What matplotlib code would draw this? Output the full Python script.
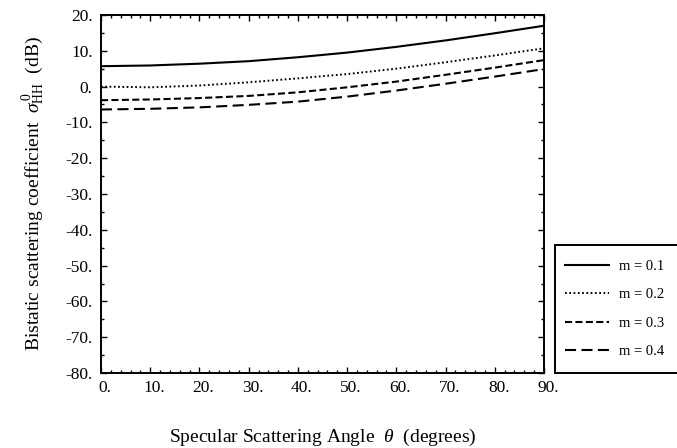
import matplotlib
matplotlib.use("Agg")
import matplotlib.pyplot as plt
from matplotlib.ticker import MultipleLocator, FuncFormatter
from matplotlib.transforms import ScaledTranslation

plt.rcParams['font.family'] = ['Liberation Serif', 'DejaVu Serif']
plt.rcParams['mathtext.fontset'] = 'custom'
plt.rcParams['mathtext.rm'] = 'Liberation Serif'
plt.rcParams['mathtext.it'] = 'Liberation Serif:italic'

# Specular scattering angle (degrees)
theta = [0, 10, 20, 30, 40, 50, 60, 70, 80, 90]

# HH bistatic scattering coefficient (dB) for each surface slope m
sigma_m01 = [5.7, 5.9, 6.4, 7.1, 8.2, 9.5, 11.1, 12.9, 14.9, 17.0]
sigma_m02 = [0.0, -0.2, 0.3, 1.2, 2.3, 3.5, 5.0, 6.8, 8.7, 10.7]
sigma_m03 = [-3.8, -3.6, -3.2, -2.6, -1.6, -0.2, 1.4, 3.3, 5.3, 7.4]
sigma_m04 = [-6.4, -6.2, -5.8, -5.1, -4.2, -2.8, -1.1, 0.8, 2.8, 4.9]

labels = ['m = 0.1', 'm = 0.2', 'm = 0.3', 'm = 0.4']

W, H = 677, 448
fig = plt.figure(figsize=(W / 100, H / 100), dpi=100)
ax = fig.add_axes([101 / W, 1 - 373 / H, (544 - 101) / W, (373 - 15) / H])

styles = [
    dict(linestyle='-', linewidth=1.5),
    dict(linestyle=(0, (0.9, 1.3)), linewidth=1.4),
    dict(linestyle=(0, (3.4, 1.6)), linewidth=1.5),
    dict(linestyle=(0, (5.3, 2.6)), linewidth=1.5),
]
series = [sigma_m01, sigma_m02, sigma_m03, sigma_m04]
handles = []
for vals, st, lab in zip(series, styles, labels):
    h, = ax.plot(theta, vals, color='black', label=lab, **st)
    handles.append(h)

ax.set_xlim(0, 90)
ax.set_ylim(-80, 20)
ax.xaxis.set_major_locator(MultipleLocator(10))
ax.xaxis.set_minor_locator(MultipleLocator(2))
ax.yaxis.set_major_locator(MultipleLocator(10))
ax.yaxis.set_minor_locator(MultipleLocator(5))
fmt = FuncFormatter(lambda v, p: f"{v:.0f}.")
ax.xaxis.set_major_formatter(fmt)
ax.yaxis.set_major_formatter(fmt)

ax.tick_params(which='both', direction='in', top=True, right=True,
               width=1.0, labelsize=12.5)
ax.tick_params(which='major', length=4.5)
ax.tick_params(which='minor', length=2.2)
ax.tick_params(axis='y', pad=6)
ax.tick_params(axis='x', pad=5)
for sp in ax.spines.values():
    sp.set_linewidth(1.4)

# nudge x tick labels slightly to the right of their ticks
shift = ScaledTranslation(4 / 100, 0, fig.dpi_scale_trans)
for lbl in ax.get_xticklabels():
    lbl.set_transform(lbl.get_transform() + shift)

ax.set_xlabel(r'Specular Scattering Angle  $\theta$  (degrees)',
              fontsize=14, labelpad=22)
ax.set_ylabel(r'Bistatic scattering coefficient  $\sigma^{\,0}_{\rm HH}$  (dB)',
              fontsize=14, labelpad=14)

# Legend box at the right, open on its right edge
lax = fig.add_axes([555 / W, 1 - 373 / H, (W - 555) / W + 0.01, (373 - 245) / H])
lax.set_xticks([])
lax.set_yticks([])
lax.spines['right'].set_visible(False)
for sp in ['left', 'top', 'bottom']:
    lax.spines[sp].set_linewidth(1.4)
lax.legend(handles=handles, labels=labels, loc='center left',
           bbox_to_anchor=(0.0, 0.5), frameon=False, fontsize=10.5,
           handlelength=3.0, handletextpad=0.7, labelspacing=1.05,
           borderaxespad=0.3)

fig.savefig('out.png', dpi=100)
